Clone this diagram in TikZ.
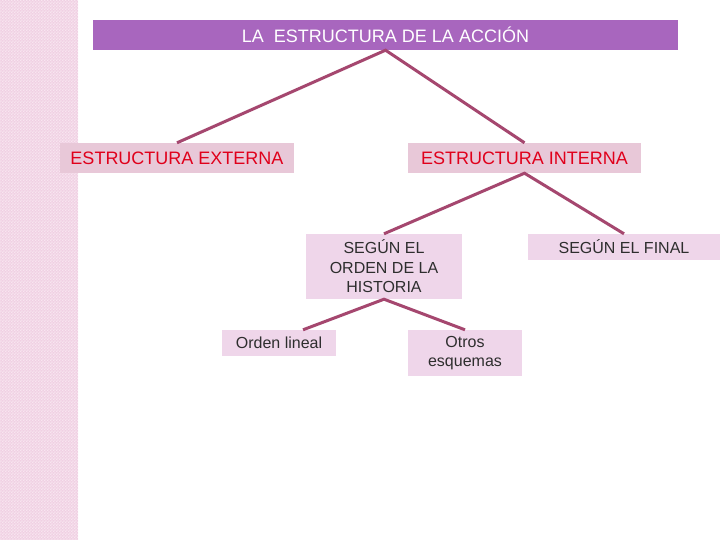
\documentclass[tikz,border=0pt]{standalone}
\usepackage{fontspec}
\setmainfont{Liberation Sans}
\usetikzlibrary{patterns,calc}
\pgfdeclarepatternformonly{finechk}{\pgfpointorigin}{\pgfqpoint{3.2pt}{3.2pt}}{\pgfqpoint{3.2pt}{3.2pt}}{%
  \pgfpathrectangle{\pgfpointorigin}{\pgfqpoint{1.6pt}{1.6pt}}%
  \pgfpathrectangle{\pgfqpoint{1.6pt}{1.6pt}}{\pgfqpoint{1.6pt}{1.6pt}}%
  \pgfusepath{fill}}
\definecolor{titlebg}{HTML}{A866BE}
\definecolor{lvlone}{HTML}{E8C8D8}
\definecolor{lvltwo}{HTML}{EFD6EA}
\definecolor{redtext}{HTML}{E0001B}
\definecolor{graytext}{HTML}{2E2E2E}
\definecolor{linkcol}{HTML}{A5476F}
\definecolor{stripbase}{HTML}{F0D0E3}
\definecolor{stripchk}{HTML}{F8E6F0}
\tikzset{
  box/.style={rectangle, inner sep=0pt, align=center},
  titlebox/.style={box, fill=titlebg, text=white, font=\fontsize{18}{20}\selectfont},
  onebox/.style={box, fill=lvlone, text=redtext, font=\fontsize{18}{20}\selectfont},
  twobox/.style={box, fill=lvltwo, text=graytext, font=\fontsize{16}{19.5}\selectfont},
  link/.style={draw=linkcol, line width=3pt}
}
\begin{document}
\begin{tikzpicture}[x=1pt,y=-1pt]
\useasboundingbox (0,0) rectangle (720,540);
\fill[white] (0,0) rectangle (720,540);
\fill[stripbase] (0,0) rectangle (78,540);
\fill[pattern=finechk, pattern color=stripchk] (0,0) rectangle (78,540);

\node[titlebox, minimum width=585pt, minimum height=30pt] (title) at (385.5,35) {LA\ \ ESTRUCTURA DE LA ACCIÓN};
\node[onebox, minimum width=234pt, minimum height=30pt] (ext) at (177,158) {ESTRUCTURA EXTERNA};
\node[onebox, minimum width=233pt, minimum height=30pt] (int) at (524.5,158) {ESTRUCTURA INTERNA};
\node[twobox, minimum width=156pt, minimum height=65pt] (orden) at (384,266.5) {SEGÚN EL\\ORDEN DE LA\\HISTORIA};
\node[twobox, minimum width=192pt, minimum height=26pt] (final) at (624,247) {SEGÚN EL FINAL};
\node[twobox, minimum width=114pt, minimum height=26pt] (lineal) at (279,343) {Orden lineal};
\node[twobox, minimum width=114pt, minimum height=46pt] (otros) at (465,353) {Otros\\esquemas};

\draw[link] (ext.north) -- (title.south) -- (int.north);
\draw[link] (orden.north) -- (int.south) -- (final.north);
\draw[link] ($(lineal.north)!0.42!(lineal.north east)$) -- (orden.south) -- (otros.north);
\end{tikzpicture}
\end{document}
